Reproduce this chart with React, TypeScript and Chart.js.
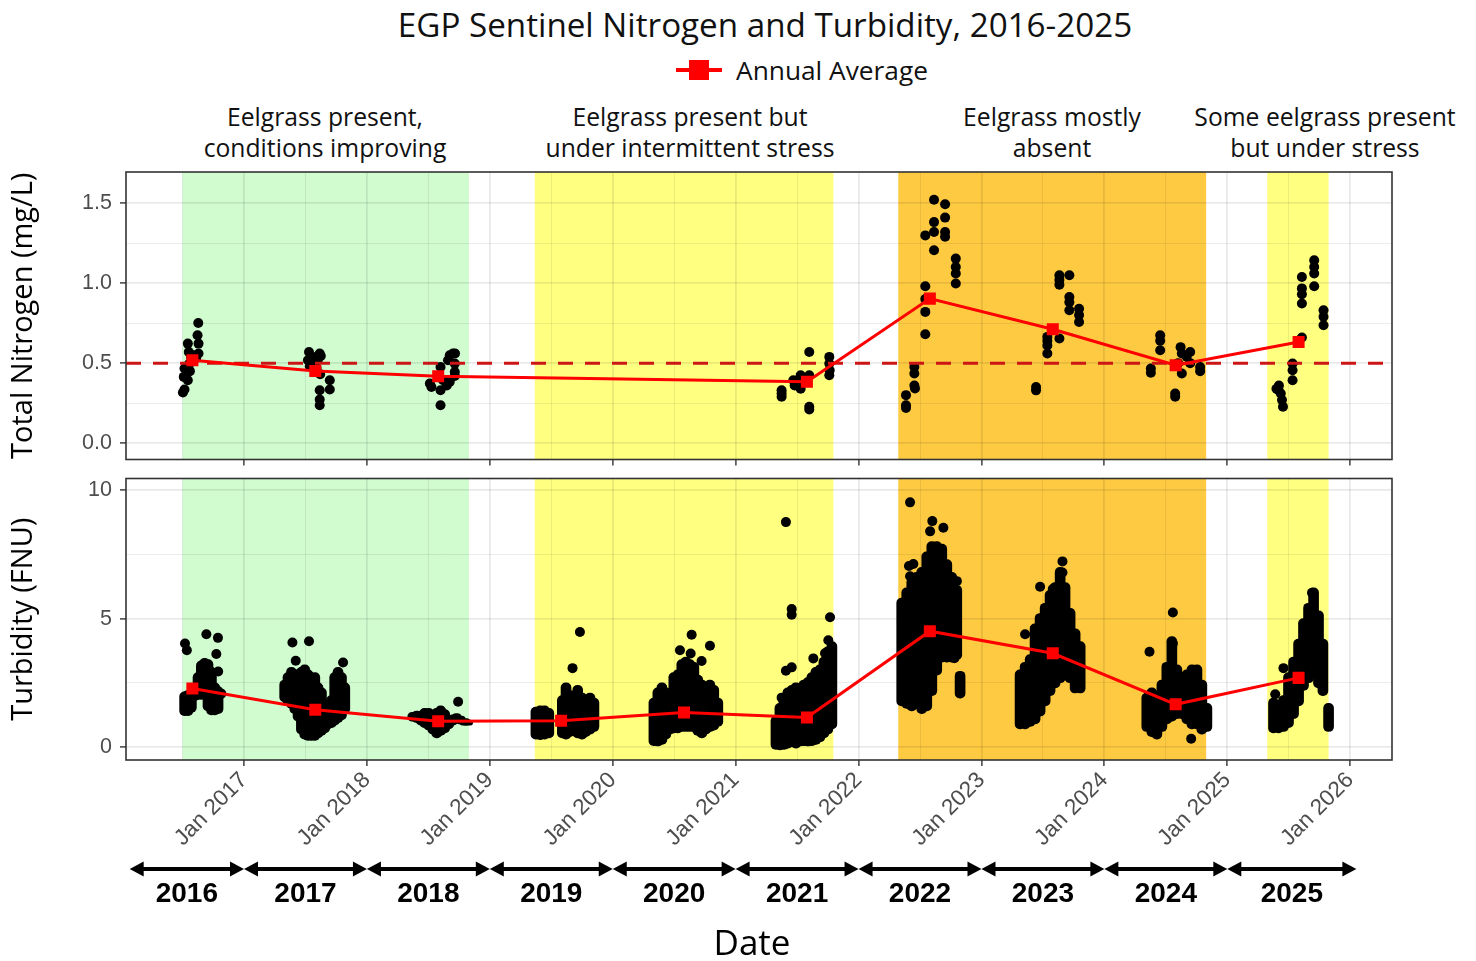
import React, { useEffect, useRef } from 'react';
import { Chart, registerables } from 'chart.js';

Chart.register(...registerables);

// ---------------- axes ----------------
const xMin = 2016.04;
const xMax = 2026.34;
const majorYears = [2017, 2018, 2019, 2020, 2021, 2022, 2023, 2024, 2025, 2026];
const minorYears = [2016.5, 2017.5, 2018.5, 2019.5, 2020.5, 2021.5, 2022.5, 2023.5, 2024.5, 2025.5];

const nitroMin = -0.102;
const nitroMax = 1.694;
const nitroMajorTicks = [0, 0.5, 1, 1.5];
const nitroMinorTicks = [0.25, 0.75, 1.25];

const turbMin = -0.51;
const turbMax = 10.46;
const turbMajorTicks = [0, 5, 10];
const turbMinorTicks = [2.5, 7.5];

// ---------------- year bands under the axis ----------------
const yearLabels = ['2016', '2017', '2018', '2019', '2020', '2021', '2022', '2023', '2024', '2025'];
const yearSpanStart = [2016.07, 2017, 2018, 2019, 2020, 2021, 2022, 2023, 2024, 2025];
const yearSpanEnd = [2017, 2018, 2019, 2020, 2021, 2022, 2023, 2024, 2025, 2026.05];

// ---------------- eelgrass condition periods ----------------
const periodStart = [2016.5, 2019.366, 2022.323, 2025.325];
const periodEnd = [2018.83, 2021.795, 2024.828, 2025.824];
const periodColors = ['#d0fcd0', '#ffff80', '#fdca42', '#ffff80'];

// ---------------- annual averages ----------------
const nitroAvgYears = [2016.58, 2017.58, 2018.58, 2021.58, 2022.58, 2023.58, 2024.58, 2025.58];
const nitroAvg = [0.518, 0.451, 0.418, 0.383, 0.903, 0.712, 0.487, 0.632];
const turbAvgYears = [2016.58, 2017.58, 2018.58, 2019.58, 2020.58, 2021.58, 2022.58, 2023.58, 2024.58, 2025.58];
const turbAvg = [2.28, 1.45, 1.0, 1.02, 1.34, 1.15, 4.51, 3.65, 1.66, 2.69];
const nitrogenThreshold = 0.5;

// ---------------- total nitrogen samples [date, mg/L] ----------------
const nitro2016 = [[2016.503, 0.316], [2016.516, 0.335], [2016.51, 0.414], [2016.516, 0.466], [2016.535, 0.435], [2016.543, 0.622], [2016.551, 0.57], [2016.556, 0.497], [2016.57, 0.539], [2016.543, 0.393], [2016.56, 0.45], [2016.63, 0.56], [2016.63, 0.622], [2016.622, 0.674], [2016.628, 0.751], [2016.61, 0.53], [2016.59, 0.55]];
const nitro2017 = [[2017.529, 0.57], [2017.52, 0.518], [2017.535, 0.48], [2017.56, 0.539], [2017.575, 0.497], [2017.6, 0.52], [2017.616, 0.56], [2017.625, 0.545], [2017.616, 0.331], [2017.616, 0.273], [2017.616, 0.237], [2017.698, 0.393], [2017.698, 0.335], [2017.62, 0.43], [2017.59, 0.47]];
const nitro2018 = [[2018.512, 0.373], [2018.525, 0.351], [2018.599, 0.476], [2018.599, 0.331], [2018.599, 0.237], [2018.62, 0.393], [2018.66, 0.518], [2018.674, 0.549], [2018.7, 0.56], [2018.715, 0.497], [2018.715, 0.445], [2018.674, 0.383], [2018.715, 0.42], [2018.65, 0.36], [2018.717, 0.56]];
const nitro2021 = [[2021.374, 0.331], [2021.374, 0.29], [2021.374, 0.31], [2021.469, 0.393], [2021.48, 0.36], [2021.529, 0.424], [2021.529, 0.34], [2021.599, 0.57], [2021.599, 0.424], [2021.599, 0.227], [2021.599, 0.21], [2021.762, 0.539], [2021.762, 0.497], [2021.765, 0.455], [2021.762, 0.424], [2021.51, 0.37]];
const nitro2022 = [[2022.386, 0.3], [2022.386, 0.237], [2022.386, 0.22], [2022.454, 0.476], [2022.454, 0.435], [2022.459, 0.341], [2022.454, 0.36], [2022.543, 0.98], [2022.543, 0.9], [2022.543, 0.82], [2022.543, 0.68], [2022.543, 1.298], [2022.614, 1.521], [2022.614, 1.381], [2022.614, 1.319], [2022.614, 1.205], [2022.704, 1.492], [2022.704, 1.409], [2022.704, 1.319], [2022.704, 1.29], [2022.791, 1.153], [2022.791, 1.1], [2022.791, 1.06], [2022.791, 0.997]];
const nitro2023 = [[2023.444, 0.351], [2023.444, 0.33], [2023.536, 0.664], [2023.536, 0.64], [2023.536, 0.61], [2023.536, 0.56], [2023.634, 1.049], [2023.634, 1.02], [2023.634, 0.99], [2023.634, 0.654], [2023.715, 1.049], [2023.715, 0.913], [2023.715, 0.88], [2023.715, 0.83], [2023.794, 0.84], [2023.794, 0.8], [2023.794, 0.757]];
const nitro2024 = [[2024.378, 0.466], [2024.378, 0.44], [2024.454, 0.674], [2024.454, 0.64], [2024.454, 0.58], [2024.576, 0.31], [2024.576, 0.29], [2024.63, 0.56], [2024.63, 0.435], [2024.698, 0.57], [2024.698, 0.5], [2024.779, 0.476], [2024.779, 0.45], [2024.67, 0.54], [2024.6, 0.5], [2024.62, 0.6]];
const nitro2025 = [[2025.4, 0.34], [2025.417, 0.331], [2025.435, 0.31], [2025.445, 0.27], [2025.453, 0.227], [2025.531, 0.497], [2025.531, 0.455], [2025.531, 0.393], [2025.607, 1.038], [2025.607, 0.967], [2025.607, 0.93], [2025.607, 0.872], [2025.607, 0.66], [2025.707, 1.142], [2025.707, 1.1], [2025.707, 1.06], [2025.707, 0.98], [2025.783, 0.83], [2025.783, 0.79], [2025.783, 0.737], [2025.42, 0.36]];

// ---------------- turbidity: sparse readings [date, FNU] ----------------
const turbPoints2016 = [[2016.52, 4.03], [2016.535, 3.77], [2016.694, 4.39], [2016.788, 4.25], [2016.775, 3.62], [2016.79, 2.94]];
const turbPoints2017 = [[2017.394, 4.07], [2017.529, 4.12], [2017.421, 3.36], [2017.806, 3.29]];
const turbPoints2018 = [[2018.742, 1.76]];
const turbPoints2019 = [[2019.673, 3.07], [2019.733, 4.48]];
const turbPoints2020 = [[2020.547, 3.77], [2020.642, 4.37], [2020.634, 3.64], [2020.791, 3.94], [2020.723, 3.35]];
const turbPoints2021 = [[2021.409, 8.76], [2021.456, 5.37], [2021.456, 5.15], [2021.409, 2.97], [2021.456, 3.1], [2021.768, 5.05], [2021.754, 4.16], [2021.727, 3.65], [2021.632, 3.45], [2021.374, 1.92]];
const turbPoints2022 = [[2022.419, 9.53], [2022.6, 8.8], [2022.582, 8.4], [2022.69, 8.54], [2022.446, 7.13], [2022.419, 6.65], [2022.43, 6.07], [2022.41, 7.05], [2022.8, 6.46], [2022.78, 3.71], [2022.78, 3.46]];
const turbPoints2023 = [[2023.659, 7.23], [2023.659, 6.8], [2023.477, 6.24], [2023.58, 6.15], [2023.355, 4.39]];
const turbPoints2024 = [[2024.557, 5.24], [2024.367, 3.71], [2024.706, 0.32], [2024.557, 4.03]];
const turbPoints2025 = [[2025.689, 6.01], [2025.39, 2.05], [2025.457, 3.07]];

// ---------------- turbidity: dense sonde record, range per date [date, low, high] ----------------
const turbCols2016 = [[2016.517, 1.22, 2.15], [2016.544, 1.22, 2.2], [2016.572, 1.35, 2.25], [2016.599, 1.8, 2.4], [2016.626, 1.85, 2.9], [2016.653, 1.85, 3.35], [2016.68, 1.9, 3.45], [2016.707, 1.4, 3.4], [2016.735, 1.25, 3.1], [2016.762, 1.25, 2.5], [2016.789, 1.3, 2.35], [2016.813, 1.9, 2.25]];
const turbCols2017 = [[2017.331, 1.75, 2.6], [2017.358, 1.6, 2.9], [2017.386, 1.5, 3.1], [2017.413, 1.3, 3.0], [2017.44, 1.0, 3.0], [2017.467, 0.5, 3.1], [2017.494, 0.3, 3.2], [2017.521, 0.25, 3.0], [2017.549, 0.25, 2.8], [2017.576, 0.25, 2.9], [2017.602, 0.35, 2.5], [2017.63, 0.45, 2.3], [2017.657, 0.55, 1.8], [2017.684, 0.7, 1.6], [2017.711, 0.75, 2.0], [2017.738, 0.85, 2.9], [2017.765, 0.95, 3.1], [2017.793, 1.05, 2.9], [2017.82, 1.3, 2.5]];
const turbCols2018 = [[2018.373, 1.0, 1.35], [2018.406, 0.95, 1.4], [2018.44, 0.85, 1.4], [2018.47, 0.75, 1.5], [2018.503, 0.65, 1.5], [2018.536, 0.5, 1.4], [2018.568, 0.35, 1.5], [2018.6, 0.45, 1.6], [2018.633, 0.55, 1.45], [2018.666, 0.7, 1.2], [2018.7, 0.85, 1.25], [2018.73, 0.95, 1.3], [2018.76, 0.9, 1.2], [2018.796, 0.85, 1.1], [2018.82, 0.85, 1.05]];
const turbCols2019 = [[2019.375, 0.3, 1.55], [2019.41, 0.28, 1.6], [2019.445, 0.3, 1.6], [2019.48, 0.35, 1.5], [2019.59, 0.35, 2.0], [2019.62, 0.3, 2.5], [2019.65, 0.4, 2.2], [2019.685, 0.5, 2.0], [2019.715, 0.35, 2.4], [2019.75, 0.3, 2.1], [2019.78, 0.4, 1.9], [2019.815, 0.5, 2.1], [2019.847, 0.6, 1.9]];
const turbCols2020 = [[2020.335, 0.05, 1.9], [2020.367, 0.0, 2.3], [2020.4, 0.1, 2.5], [2020.432, 0.3, 2.3], [2020.465, 0.5, 2.2], [2020.497, 0.55, 2.9], [2020.53, 0.55, 3.0], [2020.562, 0.6, 3.4], [2020.595, 0.6, 3.5], [2020.627, 0.6, 3.4], [2020.66, 0.6, 3.3], [2020.692, 0.45, 2.8], [2020.725, 0.35, 2.6], [2020.757, 0.5, 2.4], [2020.79, 0.6, 2.6], [2020.822, 0.65, 2.4], [2020.855, 0.8, 1.9]];
const turbCols2021 = [[2021.328, -0.1, 1.2], [2021.36, -0.12, 1.7], [2021.393, -0.1, 2.0], [2021.425, -0.05, 2.3], [2021.458, 0.0, 2.4], [2021.49, -0.05, 2.5], [2021.523, 0.0, 2.4], [2021.555, 0.05, 2.6], [2021.588, 0.0, 2.7], [2021.62, 0.05, 2.9], [2021.653, 0.1, 3.1], [2021.686, 0.2, 3.2], [2021.718, 0.35, 3.5], [2021.75, 0.5, 3.9], [2021.783, 0.7, 4.1]];
const turbCols2022 = [[2022.351, 1.6, 5.8], [2022.392, 1.5, 6.2], [2022.433, 1.4, 6.6], [2022.473, 1.5, 6.8], [2022.514, 1.3, 7.0], [2022.555, 1.4, 7.6], [2022.596, 2.0, 8.0], [2022.636, 2.8, 8.0], [2022.677, 3.3, 7.9], [2022.718, 3.3, 7.3], [2022.758, 3.3, 6.8], [2022.799, 3.4, 6.3], [2022.826, 1.9, 2.95]];
const turbCols2023 = [[2023.314, 0.7, 3.0], [2023.355, 0.7, 3.3], [2023.396, 0.8, 3.6], [2023.436, 0.9, 4.8], [2023.477, 1.2, 5.2], [2023.518, 1.6, 5.6], [2023.558, 2.0, 6.1], [2023.599, 2.3, 6.4], [2023.64, 2.5, 7.0], [2023.68, 2.6, 6.4], [2023.721, 2.5, 5.4], [2023.762, 2.1, 4.6], [2023.803, 2.1, 4.1]];
const turbCols2024 = [[2024.345, 0.6, 2.1], [2024.386, 0.4, 2.3], [2024.427, 0.3, 2.0], [2024.468, 0.6, 2.6], [2024.508, 0.9, 3.3], [2024.549, 1.0, 4.3], [2024.59, 1.1, 3.2], [2024.63, 1.1, 2.5], [2024.671, 0.9, 3.0], [2024.712, 0.7, 3.2], [2024.753, 0.7, 3.2], [2024.793, 0.5, 2.6], [2024.834, 0.6, 1.7]];
const turbCols2025 = [[2025.376, 0.55, 1.9], [2025.417, 0.55, 1.8], [2025.457, 0.6, 2.0], [2025.498, 0.75, 2.9], [2025.539, 1.1, 3.5], [2025.58, 1.6, 4.2], [2025.62, 2.2, 5.0], [2025.661, 2.5, 5.6], [2025.702, 2.7, 6.2], [2025.742, 2.3, 5.3], [2025.778, 2.0, 4.2], [2025.824, 0.6, 1.7]];

// ---------------- text ----------------
const chartTitle = 'EGP Sentinel Nitrogen and Turbidity, 2016-2025';
const legendLabel = 'Annual Average';
const nitroTitle = 'Total Nitrogen (mg/L)';
const turbTitle = 'Turbidity (FNU)';
const xTitle = 'Date';
const periodNotes = [
  ['Eelgrass present,', 'conditions improving'],
  ['Eelgrass present but', 'under intermittent stress'],
  ['Eelgrass mostly', 'absent'],
  ['Some eelgrass present', 'but under stress'],
];
const periodNoteX = [325, 690, 1052, 1325];

// ---------------- styling ----------------
const TEXT_FONT = '"Open Sans", "Noto Sans", sans-serif';
const TICK_FONT = '"Liberation Sans", Arial, sans-serif';
const GRID = 'rgba(0,0,0,0.085)';
const AXIS_DARK = '#333333';
const TICK_GREY = '#4d4d4d';
const RED = '#ff0000';

const nitroSamples = [...nitro2016, ...nitro2017, ...nitro2018, ...nitro2021, ...nitro2022, ...nitro2023, ...nitro2024, ...nitro2025];
const turbPoints = [...turbPoints2016, ...turbPoints2017, ...turbPoints2018, ...turbPoints2019, ...turbPoints2020, ...turbPoints2021, ...turbPoints2022, ...turbPoints2023, ...turbPoints2024, ...turbPoints2025];
const turbCols = [...turbCols2016, ...turbCols2017, ...turbCols2018, ...turbCols2019, ...turbCols2020, ...turbCols2021, ...turbCols2022, ...turbCols2023, ...turbCols2024, ...turbCols2025];

const shadePlugin = {
  id: 'shadePeriods',
  beforeDraw(chart: any) {
    const { ctx, chartArea: a, scales } = chart;
    const x = scales.x;
    ctx.save();
    periodStart.forEach((s, i) => {
      const x0 = Math.max(a.left, x.getPixelForValue(s));
      const x1 = Math.min(a.right, x.getPixelForValue(periodEnd[i]));
      ctx.fillStyle = periodColors[i];
      ctx.fillRect(x0, a.top, x1 - x0, a.bottom - a.top);
    });
    ctx.restore();
  },
};

const framePlugin = {
  id: 'panelFrame',
  afterDraw(chart: any) {
    const { ctx, chartArea: a } = chart;
    ctx.save();
    ctx.strokeStyle = AXIS_DARK;
    ctx.lineWidth = 1.6;
    ctx.strokeRect(a.left, a.top, a.right - a.left, a.bottom - a.top);
    ctx.restore();
  },
};

const yearBandPlugin = {
  id: 'yearBands',
  afterDraw(chart: any) {
    const { ctx, chartArea: a, scales } = chart;
    const x = scales.x;
    const yArrow = a.bottom + 109;
    const yText = a.bottom + 134;
    const head = 14;
    const half = 7.5;
    ctx.save();
    ctx.fillStyle = '#000';
    ctx.strokeStyle = '#000';
    ctx.lineWidth = 4;
    ctx.font = `bold 28px ${TICK_FONT}`;
    ctx.textAlign = 'center';
    ctx.textBaseline = 'middle';
    yearLabels.forEach((lab, i) => {
      const x0 = x.getPixelForValue(yearSpanStart[i]);
      const x1 = x.getPixelForValue(yearSpanEnd[i]);
      ctx.beginPath();
      ctx.moveTo(x0 + head - 1, yArrow);
      ctx.lineTo(x1 - head + 1, yArrow);
      ctx.stroke();
      ctx.beginPath();
      ctx.moveTo(x0, yArrow);
      ctx.lineTo(x0 + head, yArrow - half);
      ctx.lineTo(x0 + head, yArrow + half);
      ctx.closePath();
      ctx.fill();
      ctx.beginPath();
      ctx.moveTo(x1, yArrow);
      ctx.lineTo(x1 - head, yArrow - half);
      ctx.lineTo(x1 - head, yArrow + half);
      ctx.closePath();
      ctx.fill();
      ctx.fillText(lab, (x0 + x1) / 2, yText);
    });
    ctx.font = `35px ${TEXT_FONT}`;
    ctx.fillText(xTitle, (a.left + a.right) / 2 - 7, a.bottom + 185);
    ctx.restore();
  },
};

const isIn = (arr: number[], v: number) => arr.some((m) => Math.abs(m - v) < 1e-6);

function xScale(showLabels: boolean, height: number) {
  return {
    type: 'linear',
    min: xMin,
    max: xMax,
    bounds: 'data',
    offset: false,
    afterBuildTicks: (s: any) => {
      s.ticks = [...majorYears, ...minorYears].sort((p, q) => p - q).map((v) => ({ value: v }));
    },
    afterFit: (s: any) => {
      s.height = height;
      s.paddingLeft = 0;
      s.paddingRight = 0;
    },
    grid: {
      offset: false,
      color: GRID,
      lineWidth: (c: any) => (c.tick && isIn(majorYears, c.tick.value) ? 1.8 : 0.9),
      tickColor: (c: any) => (c.tick && isIn(majorYears, c.tick.value) ? AXIS_DARK : 'rgba(0,0,0,0)'),
      tickWidth: 1.4,
      tickLength: 6,
    },
    border: { display: false },
    ticks: {
      display: showLabels,
      autoSkip: false,
      minRotation: 45,
      maxRotation: 45,
      padding: 1,
      color: TICK_GREY,
      font: { family: TICK_FONT, size: 22.5 },
      callback: (v: number) => (isIn(majorYears, v) ? `Jan ${Math.round(v)}` : ''),
    },
  };
}

function yScale(min: number, max: number, major: number[], minor: number[], title: string, fmt: (v: number) => string) {
  return {
    type: 'linear',
    min,
    max,
    bounds: 'data',
    beginAtZero: false,
    afterBuildTicks: (s: any) => {
      s.ticks = [...major, ...minor].sort((p, q) => p - q).map((v) => ({ value: v }));
    },
    afterFit: (s: any) => {
      s.width = 126;
      s.paddingTop = 0;
      s.paddingBottom = 0;
    },
    grid: {
      color: GRID,
      lineWidth: (c: any) => (c.tick && isIn(major, c.tick.value) ? 1.8 : 0.9),
      tickColor: (c: any) => (c.tick && isIn(major, c.tick.value) ? AXIS_DARK : 'rgba(0,0,0,0)'),
      tickWidth: 1.4,
      tickLength: 6,
    },
    border: { display: false },
    ticks: {
      autoSkip: false,
      padding: 8,
      color: TICK_GREY,
      font: { family: TICK_FONT, size: 21.5 },
      callback: (v: number) => (isIn(major, v) ? fmt(v) : ''),
    },
    title: {
      display: true,
      text: title,
      color: '#000',
      font: { family: TEXT_FONT, size: 29 },
      padding: { top: 6, bottom: 0 },
    },
  };
}

function avgDataset(years: number[], vals: number[]) {
  return {
    type: 'line',
    data: years.map((x, i) => ({ x, y: vals[i] })),
    borderColor: RED,
    borderWidth: 3,
    pointStyle: 'rect',
    pointRadius: 8.5,
    pointBackgroundColor: RED,
    pointBorderColor: RED,
    pointBorderWidth: 0,
    tension: 0,
    order: 0,
  };
}

const baseOptions = {
  responsive: false,
  maintainAspectRatio: false,
  animation: false,
  devicePixelRatio: 1,
  events: [],
  plugins: { legend: { display: false }, tooltip: { enabled: false }, title: { display: false } },
};

export default function App() {
  const topRef = useRef<HTMLCanvasElement>(null);
  const botRef = useRef<HTMLCanvasElement>(null);

  useEffect(() => {
    const top = new Chart(topRef.current as HTMLCanvasElement, {
      type: 'scatter',
      data: {
        datasets: [
          avgDataset(nitroAvgYears, nitroAvg),
          {
            type: 'line',
            data: [
              { x: xMin, y: nitrogenThreshold },
              { x: xMax, y: nitrogenThreshold },
            ],
            borderColor: '#cc1515',
            borderWidth: 3,
            borderDash: [15, 12],
            pointRadius: 0,
            order: 1,
          },
          {
            type: 'scatter',
            data: nitroSamples.map(([x, y]) => ({ x, y })),
            pointRadius: 5,
            backgroundColor: '#000',
            borderWidth: 0,
            order: 2,
          },
        ],
      } as any,
      options: {
        ...baseOptions,
        layout: { padding: { top: 12, right: 84, left: 0, bottom: 0 } },
        scales: {
          x: xScale(false, 10.5),
          y: yScale(nitroMin, nitroMax, nitroMajorTicks, nitroMinorTicks, nitroTitle, (v) => v.toFixed(1)),
        },
      } as any,
      plugins: [shadePlugin, framePlugin],
    });

    const bot = new Chart(botRef.current as HTMLCanvasElement, {
      type: 'scatter',
      data: {
        datasets: [
          avgDataset(turbAvgYears, turbAvg),
          {
            type: 'scatter',
            data: turbPoints.map(([x, y]) => ({ x, y })),
            pointRadius: 5,
            backgroundColor: '#000',
            borderWidth: 0,
            order: 1,
          },
          {
            type: 'bar',
            data: turbCols.map(([x, lo, hi]) => ({ x, y: [lo, hi] })),
            backgroundColor: '#000',
            borderWidth: 0,
            barThickness: 10,
            borderRadius: 5,
            borderSkipped: false,
            order: 2,
          },
        ],
      } as any,
      options: {
        ...baseOptions,
        layout: { padding: { top: 4, right: 84, left: 0, bottom: 0 } },
        scales: {
          x: xScale(true, 201),
          y: yScale(turbMin, turbMax, turbMajorTicks, turbMinorTicks, turbTitle, (v) => String(v)),
        },
      } as any,
      plugins: [shadePlugin, framePlugin, yearBandPlugin],
    });

    return () => {
      top.destroy();
      bot.destroy();
    };
  }, []);

  return (
    <div
      style={{
        position: 'absolute',
        left: 0,
        top: 0,
        width: 1476,
        height: 961,
        background: '#fff',
        fontFamily: TEXT_FONT,
        color: '#111',
        overflow: 'hidden',
      }}
    >
      <div
        style={{
          position: 'absolute',
          left: 765,
          top: 5,
          transform: 'translateX(-50%)',
          whiteSpace: 'nowrap',
          fontSize: 33.2,
          lineHeight: '40px',
        }}
      >
        {chartTitle}
      </div>
      <div style={{ position: 'absolute', left: 676, top: 68, width: 46, height: 4, background: RED }} />
      <div style={{ position: 'absolute', left: 689, top: 60, width: 20, height: 20, background: RED }} />
      <div
        style={{ position: 'absolute', left: 736, top: 52, whiteSpace: 'nowrap', fontSize: 26.3, lineHeight: '36px' }}
      >
        {legendLabel}
      </div>
      {periodNotes.map((lines, i) => (
        <div
          key={i}
          style={{
            position: 'absolute',
            left: periodNoteX[i],
            top: 101,
            transform: 'translateX(-50%)',
            textAlign: 'center',
            whiteSpace: 'nowrap',
            fontSize: 24.7,
            lineHeight: '31px',
          }}
        >
          {lines[0]}
          <br />
          {lines[1]}
        </div>
      ))}
      <canvas
        ref={topRef}
        width={1476}
        height={310}
        style={{ position: 'absolute', left: 0, top: 160, width: 1476, height: 310 }}
      />
      <canvas
        ref={botRef}
        width={1476}
        height={491}
        style={{ position: 'absolute', left: 0, top: 470, width: 1476, height: 491 }}
      />
    </div>
  );
}
